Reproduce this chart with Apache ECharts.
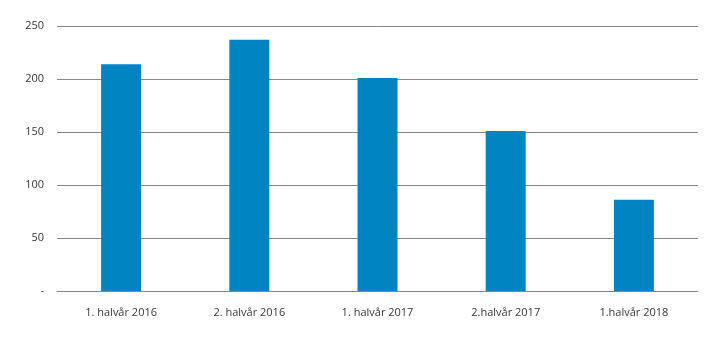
<!DOCTYPE html>
<html>
<head>
<meta charset="utf-8">
<script src="https://cdn.jsdelivr.net/npm/echarts@6/dist/echarts.min.js"></script>
<style>html,body{margin:0;padding:0;background:#fff;}#c{width:719px;height:341px;}</style>
</head>
<body>
<div id="c"></div>
<script>
const categories = ["1. halvår 2016", "2. halvår 2016", "1. halvår 2017", "2.halvår 2017", "1.halvår 2018"];
const values = [214, 237, 201, 151, 86];
const yTicks = [0, 50, 100, 150, 200, 250];

const chart = echarts.init(document.getElementById('c'));
chart.setOption({
  animation: false,
  grid: {left: 57, right: 21, top: 26, bottom: 50, containLabel: false},
  xAxis: {
    type: 'category',
    data: categories,
    axisLine: {show: true, lineStyle: {color: '#8c8682', width: 1}},
    axisTick: {show: false},
    axisLabel: {color: '#3c3734', fontSize: 11, fontFamily: 'Open Sans', margin: 16}
  },
  yAxis: {
    type: 'value',
    min: 0, max: 250, interval: 50,
    axisLine: {show: false},
    axisTick: {show: false},
    splitLine: {lineStyle: {color: '#8c8682', width: 1}},
    axisLabel: {
      color: '#3c3734', fontSize: 11, fontFamily: 'Open Sans', margin: 13,
      formatter: v => v === 0 ? '-' : String(v)
    }
  },
  series: [{
    type: 'bar',
    data: values,
    barWidth: 40,
    itemStyle: {color: '#0085c2'}
  }]
});
</script>
</body>
</html>
